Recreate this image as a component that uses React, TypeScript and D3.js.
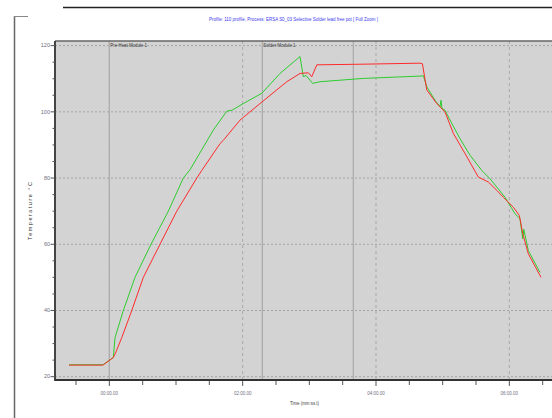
import React from "react";
import { scaleLinear, line, range } from "d3";

// profile readings, time in seconds from first module, temperature in °C
const greenTime = [-36.3, -5.7, 3.6, 5.1, 12.6, 23.1, 37.5, 53.1, 66.6, 72.6, 93.6, 105.7, 110.4, 120.6, 137.2, 153.6, 171.6, 174.6, 177, 183, 189.6, 228.6, 279.6, 282.6, 285.7, 293.1, 297.6, 298.5, 299.4, 302.1, 308.2, 315.6, 324.6, 335.2, 342.6, 348.7, 356.1, 365.1, 369.6, 372.1, 373, 377.1, 387.6];
const greenTemp = [23.6, 23.6, 25.8, 31.8, 40, 50, 60, 70, 80, 82.5, 94.5, 100.2, 100.5, 102.5, 105.6, 111.6, 116.7, 110.6, 111, 108.6, 109.1, 110.1, 110.8, 110.9, 107.6, 103.5, 101.5, 103.5, 101, 100.5, 96.5, 91.9, 86.9, 82.3, 79.8, 77.3, 74.2, 69.2, 67.7, 61.6, 64.5, 58.1, 51.5];

const redTime = [-36.3, -5.7, 3.6, 6, 11.2, 20.2, 30.6, 45.6, 60.7, 78.7, 83.2, 99.6, 102.6, 117.6, 135.6, 159.7, 171.6, 179.1, 182.2, 186.7, 228.4, 279.6, 281.8, 285.7, 294.7, 302.1, 309.6, 320.1, 332.1, 341.1, 348.7, 354.6, 363.6, 369, 372.1, 377.1, 388.5];
const redTemp = [23.5, 23.5, 25.8, 27.5, 31.8, 40, 50, 60, 70, 80, 82.3, 90.4, 91.4, 97.5, 102.5, 109.1, 111.6, 111.8, 110.6, 114.2, 114.4, 114.7, 114.5, 106.6, 102.5, 100, 93.5, 87.4, 80.3, 78.8, 76.3, 74.2, 71.2, 68.7, 63.2, 57.1, 50];

const moduleTimes = [0, 137.7, 219.6];
const moduleNames = ["Pre-Heat Module 1", "Solder Module 1", ""];

const xTickValues = [0, 120, 240, 360];
const xTickLabels = ["00:00.00", "02:00.00", "04:00.00", "06:00.00"];
const yTickValues = [20, 40, 60, 80, 100, 120];

const title = "Profile: 110 profile, Process: ERSA S0_03 Selective Solder lead free pot [ Full Zoom ]";

export default function App() {
  const width = 552;
  const height = 418;
  const plot = { left: 55, right: 560, top: 41, bottom: 380 };

  const x = scaleLinear().domain([-48.9, 405.6]).range([plot.left, plot.right]);
  const y = scaleLinear().domain([19, 121.4]).range([plot.bottom, plot.top]);

  const makePath = (ts: number[], vs: number[]) =>
    line<number>()
      .x((d) => x(d))
      .y((_, i) => y(vs[i]))(ts);

  const tickColor = "#6e6e82";
  const font = "'Liberation Sans', Arial, sans-serif";

  return (
    <svg
      width={width}
      height={height}
      style={{ position: "absolute", left: 0, top: 0, background: "#fff" }}
      fontFamily={font}
    >
      <defs>
        <clipPath id="plotClip">
          <rect x={plot.left} y={plot.top} width={plot.right - plot.left} height={plot.bottom - plot.top} />
        </clipPath>
      </defs>

      {/* outer frame */}
      <line x1={14.5} y1={16} x2={14.5} y2={height} stroke="#666" strokeWidth={1.5} />
      <line x1={14} y1={16.5} x2={28} y2={16.5} stroke="#888" strokeWidth={1} />
      <line x1={63} y1={7.5} x2={width} y2={7.5} stroke="#222" strokeWidth={1.5} />

      <text x={293.5} y={21} textAnchor="middle" fontSize={5.5} fill="#3c3cf0" textLength={169} lengthAdjust="spacingAndGlyphs">
        {title}
      </text>

      {/* plot background */}
      <rect x={plot.left} y={plot.top} width={plot.right - plot.left} height={plot.bottom - plot.top} fill="#d3d3d3" />

      <g clipPath="url(#plotClip)">
        {yTickValues.map((v) => (
          <line key={`gy${v}`} x1={plot.left} x2={plot.right} y1={y(v)} y2={y(v)} stroke="#a4a4a4" strokeDasharray="2,2" />
        ))}
        {xTickValues.map((v) => (
          <line key={`gx${v}`} x1={x(v)} x2={x(v)} y1={plot.top} y2={plot.bottom} stroke="#a9a9a9" strokeDasharray="3,3" />
        ))}
        {moduleTimes.map((t, i) => (
          <g key={`m${i}`}>
            <line x1={x(t)} x2={x(t)} y1={plot.top} y2={plot.bottom} stroke="#adadad" strokeWidth={1.3} />
            {moduleNames[i] && (
              <text x={x(t) + 1} y={plot.top + 6} fontSize={5.5} fill="#333" textLength={moduleNames[i].length * 2.15} lengthAdjust="spacingAndGlyphs">
                {moduleNames[i]}
              </text>
            )}
          </g>
        ))}
        <path d={makePath(greenTime, greenTemp) || ""} fill="none" stroke="#2ecc2e" strokeWidth={1} />
        <path d={makePath(redTime, redTemp) || ""} fill="none" stroke="#ff2a2a" strokeWidth={1} />
      </g>

      {/* plot border */}
      <line x1={plot.left} x2={plot.right} y1={plot.top} y2={plot.top} stroke="#666" strokeWidth={1.5} />
      <line x1={plot.left} x2={plot.left} y1={plot.top} y2={plot.bottom + 1} stroke="#444" strokeWidth={2} />
      <line x1={plot.left} x2={plot.right} y1={plot.bottom} y2={plot.bottom} stroke="#333" strokeWidth={2} />

      {/* y axis ticks */}
      {range(20, 121, 5).map((v) => (
        <line key={`yt${v}`} x1={v % 20 === 0 ? 50.5 : 52.5} x2={plot.left} y1={y(v)} y2={y(v)} stroke="#555" strokeWidth={1} />
      ))}
      {yTickValues.map((v) => (
        <text key={`yl${v}`} x={50} y={y(v) + 1.8} textAnchor="end" fontSize={5.5} fill={tickColor}>
          {v}
        </text>
      ))}

      {/* x axis ticks */}
      {range(-30, 400, 30).map((t) => (
        <line key={`xt${t}`} x1={x(t)} x2={x(t)} y1={plot.bottom + 1} y2={plot.bottom + (t % 120 === 0 ? 6 : 5)} stroke="#555" strokeWidth={1} />
      ))}
      {xTickValues.map((t, i) => (
        <text key={`xl${t}`} x={x(t)} y={394.5} textAnchor="middle" fontSize={5.5} fill={tickColor} textLength={17.5} lengthAdjust="spacingAndGlyphs">
          {xTickLabels[i]}
        </text>
      ))}

      <text x={304.5} y={405} textAnchor="middle" fontSize={5.5} fill="#444" textLength={29} lengthAdjust="spacingAndGlyphs">
        Time (mm:ss.t)
      </text>
      <text
        transform={`translate(31.5, 211) rotate(-90)`}
        textAnchor="middle"
        fontSize={5.5}
        fill="#333"
        textLength={58}
        lengthAdjust="spacing"
      >
        Temperature °C
      </text>
    </svg>
  );
}
